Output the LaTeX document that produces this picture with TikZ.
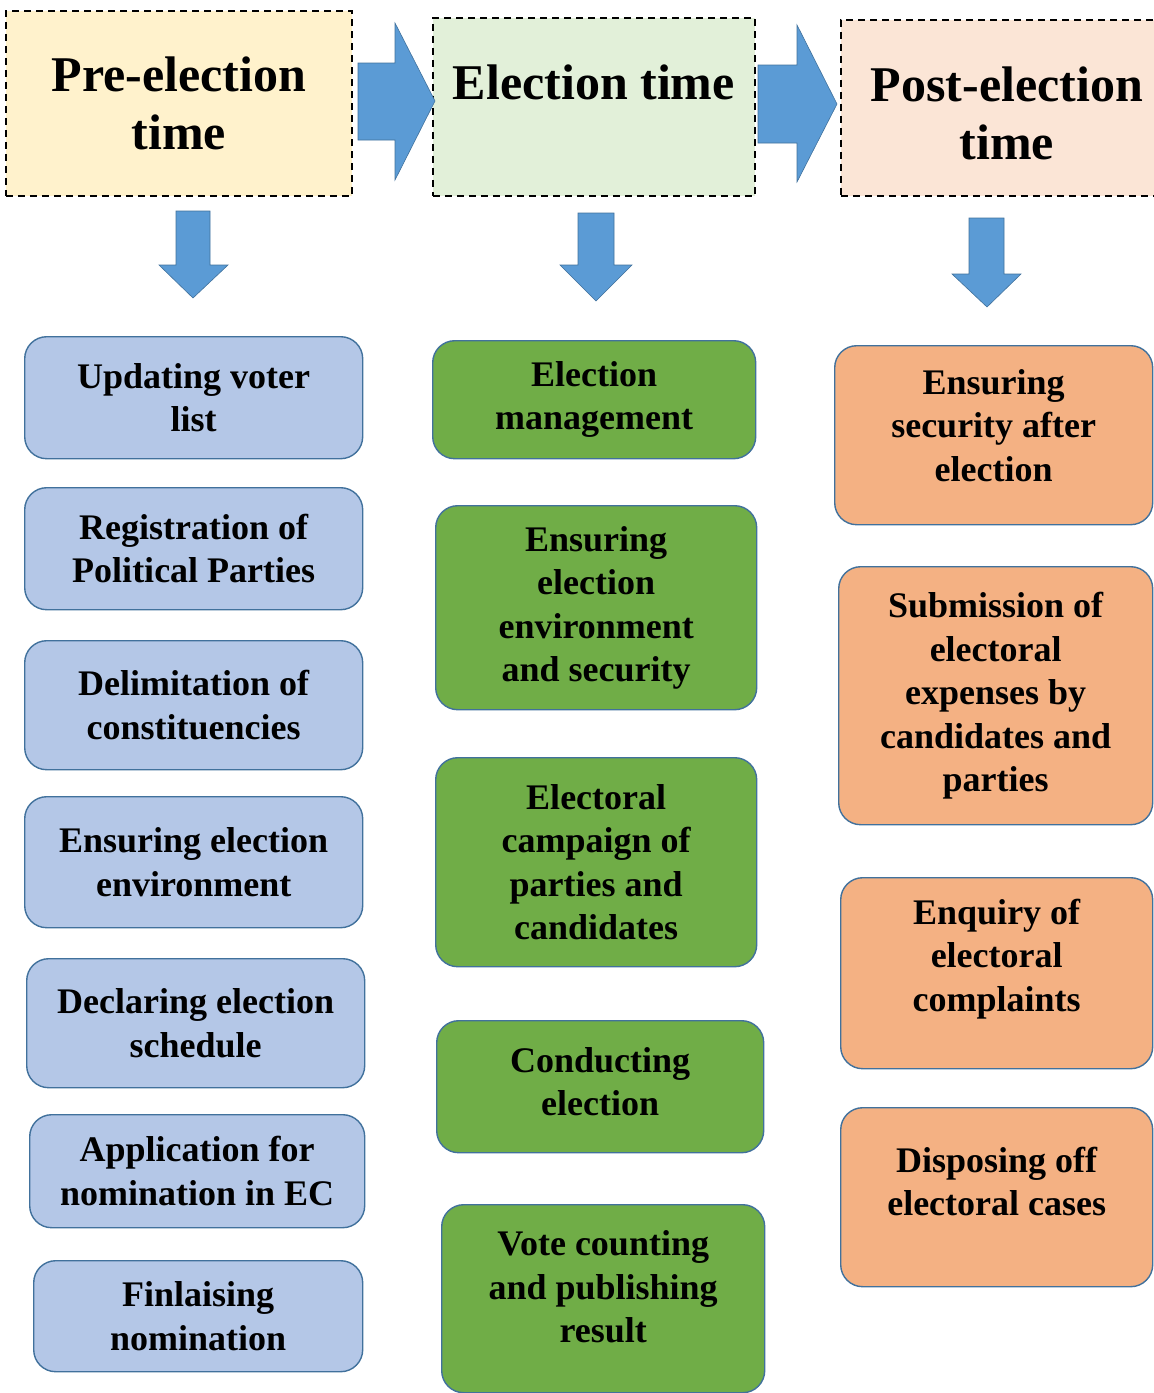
\documentclass[tikz,border=0pt]{standalone}
\usepackage{fontspec}
\setmainfont{Liberation Serif}
\usepackage{xcolor}
\usepackage{tikz}
\usetikzlibrary{positioning}

\definecolor{preyellow}{HTML}{FFF2CC}
\definecolor{elecgreen}{HTML}{E2F0D9}
\definecolor{postpeach}{HTML}{FBE5D6}
\definecolor{taskblue}{HTML}{B4C7E7}
\definecolor{taskgreen}{HTML}{70AD47}
\definecolor{taskorange}{HTML}{F4B183}
\definecolor{arrowblue}{HTML}{5B9BD5}
\definecolor{edgeblue}{HTML}{41719C}

\begin{document}
\begin{tikzpicture}[x=1pt, y=-1pt]
        \tikzset{
            every node/.style={
                align=center,
                text centered,
                anchor=north west,
                inner sep=0pt,
                font=\bfseries\fontsize{36}{43.5}\selectfont,
            },
            headbox/.style={
                draw=black, line width=1.6pt, dash pattern=on 7pt off 5pt,
                font=\bfseries\fontsize{50}{58}\selectfont,
            },
            taskbox/.style={
                draw=edgeblue, line width=1.4pt, rounded corners=22pt,
            },
            prebox/.style={taskbox, fill=taskblue},
            elecbox/.style={taskbox, fill=taskgreen},
            postbox/.style={taskbox, fill=taskorange},
            blockarrow/.style={fill=arrowblue, draw=edgeblue, line width=0.6pt},
        }
        \useasboundingbox (0,0) rectangle (1154,1393);

        % phase headers
        \node[headbox, fill=preyellow, minimum width=346pt, minimum height=185pt] (pre) at (5,10) {Pre-election\\time};
        \node[headbox, fill=elecgreen, minimum width=322pt, minimum height=178pt, text depth=49pt] (elec) at (432,17) {Election time};
        \node[headbox, fill=postpeach, minimum width=332pt, minimum height=176pt, text height=103pt] (post) at (840,19) {Post-election\\time};

        % arrows between phases
        \filldraw[blockarrow] (358,63) -- (395,63) -- (395,23) -- (435,101) -- (395,180) -- (395,140) -- (358,140) -- cycle;
        \filldraw[blockarrow] (758,65) -- (797,65) -- (797,25) -- (837,104) -- (797,182) -- (797,143) -- (758,143) -- cycle;

        % arrows down to the tasks
        \filldraw[blockarrow] (176,211) -- (210,211) -- (210,265) -- (228,265) -- (193,298) -- (159,265) -- (176,265) -- cycle;
        \filldraw[blockarrow] (578,213) -- (614,213) -- (614,265) -- (632,265) -- (596,301) -- (560,265) -- (578,265) -- cycle;
        \filldraw[blockarrow] (969,218) -- (1004,218) -- (1004,274) -- (1021,274) -- (987,307) -- (952,274) -- (969,274) -- cycle;

        % pre-election tasks
        \node[prebox, minimum width=338pt, minimum height=122pt] (pre1) at (24,336) {Updating voter\\list};
        \node[prebox, minimum width=338pt, minimum height=122pt] (pre2) at (24,487) {Registration of\\Political Parties};
        \node[prebox, minimum width=338pt, minimum height=129pt] (pre3) at (24,640) {Delimitation of\\constituencies};
        \node[prebox, minimum width=338pt, minimum height=131pt] (pre4) at (24,796) {Ensuring election\\environment};
        \node[prebox, minimum width=338pt, minimum height=129pt] (pre5) at (26,958) {Declaring election\\schedule};
        \node[prebox, minimum width=335pt, minimum height=113pt] (pre6) at (29,1114) {Application for\\nomination in EC};
        \node[prebox, minimum width=329pt, minimum height=111pt] (pre7) at (33,1260) {Finlaising\\nomination};

        % election tasks
        \node[elecbox, minimum width=323pt, minimum height=118pt] (el1) at (432,340) {Election\\management};
        \node[elecbox, minimum width=321pt, minimum height=204pt] (el2) at (435,505) {Ensuring\\election\\environment\\and security};
        \node[elecbox, minimum width=321pt, minimum height=209pt] (el3) at (435,757) {Electoral\\campaign of\\parties and\\candidates};
        \node[elecbox, minimum width=327pt, minimum height=132pt, text depth=10pt] (el4) at (436,1020) {Conducting\\election};
        \node[elecbox, minimum width=323pt, minimum height=188pt, text depth=24pt] (el5) at (441,1204) {Vote counting\\and publishing\\result};

        % post-election tasks
        \node[postbox, minimum width=318pt, minimum height=179pt, text depth=20pt] (po1) at (834,345) {Ensuring\\security after\\election};
        \node[postbox, minimum width=314pt, minimum height=258pt] (po2) at (838,566) {Submission of\\electoral\\expenses by\\candidates and\\parties};
        \node[postbox, minimum width=312pt, minimum height=191pt, text depth=36pt] (po3) at (840,877) {Enquiry of\\electoral\\complaints};
        \node[postbox, minimum width=312pt, minimum height=179pt, text depth=32pt] (po4) at (840,1107) {Disposing off\\electoral cases};
\end{tikzpicture}
\end{document}
